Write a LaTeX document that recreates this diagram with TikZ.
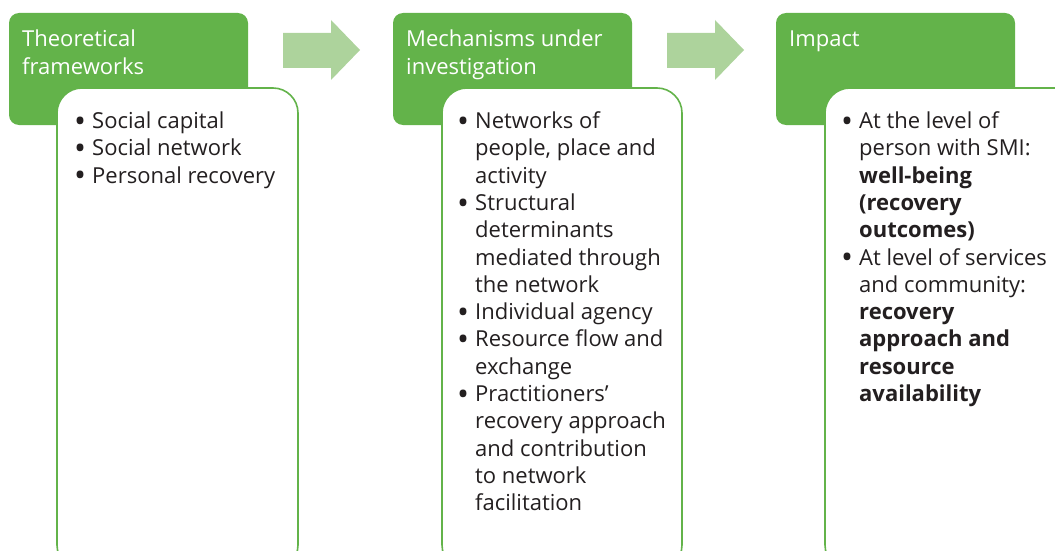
\documentclass[tikz,border=0pt]{standalone}
\usepackage{fontspec}
\setmainfont{Open Sans}
\definecolor{hdrgreen}{HTML}{63B34A}
\definecolor{arrgreen}{HTML}{ADD39C}
\definecolor{txt}{HTML}{231F20}
\newcommand{\bul}{\makebox[17pt][l]{\hspace*{-1pt}\raisebox{-3.8pt}{\scalebox{1.45}{\textbullet}}}}
\newcommand{\ind}{\hspace*{17pt}}
\tikzset{
  hdr/.style={fill=hdrgreen, draw=none, rounded corners=10pt},
  body/.style={fill=white, draw=hdrgreen, line width=1.6pt, rounded corners=25pt},
  flowarrow/.style={fill=arrgreen, draw=none},
  hdrtext/.style={anchor=base west, inner sep=0pt, align=left, text=white, font=\fontsize{22}{27.3}\selectfont},
  bodytext/.style={anchor=base west, inner sep=0pt, align=left, text=txt, font=\fontsize{22}{27.3}\selectfont},
}
\begin{document}
\begin{tikzpicture}[x=1pt,y=-1pt]
\useasboundingbox (0,0) rectangle (1055,551);
\clip (0,0) rectangle (1055,551);
% column 1
\draw[hdr] (9,13) rectangle (248,125);
\node[hdrtext] (h1) at (22,74.3) {Theoretical\\frameworks};
\draw[body] (57,88) rectangle (298,570);
\node[bodytext] (b1) at (75,183.1) {\bul Social capital\\\bul Social network\\\bul Personal recovery};
% arrow 1
\fill[flowarrow] (283,33) -- (331,33) -- (331,20) -- (360,50) -- (331,80) -- (331,68) -- (283,68) -- cycle;
% column 2
\draw[hdr] (393,13) rectangle (632,125);
\node[hdrtext] (h2) at (406,74.3) {Mechanisms under\\investigation};
\draw[body] (442,88) rectangle (682,570);
\node[bodytext] (b2) at (458,510.7) {\bul Networks of\\\ind people, place and\\\ind activity\\\bul Structural\\\ind determinants\\\ind mediated through\\\ind the network\\\bul Individual agency\\\bul Resource flow and\\\ind exchange\\\bul Practitioners’\\\ind recovery approach\\\ind and contribution\\\ind to network\\\ind facilitation};
% arrow 2
\fill[flowarrow] (667,33) -- (715,33) -- (715,20) -- (744,50) -- (715,80) -- (715,68) -- (667,68) -- cycle;
% column 3
\draw[hdr] (776,13) rectangle (1015,125);
\node[hdrtext] (h3) at (789,47) {Impact};
\draw[body] (825,88) rectangle (1090,570);
\node[bodytext] (b3) at (842,401.5) {\bul At the level of\\\ind person with SMI:\\\ind \textbf{well-being}\\\ind \textbf{(recovery}\\\ind \textbf{outcomes)}\\\bul At level of services\\\ind and community:\\\ind \textbf{recovery}\\\ind \textbf{approach and}\\\ind \textbf{resource}\\\ind \textbf{availability}};
\end{tikzpicture}
\end{document}
